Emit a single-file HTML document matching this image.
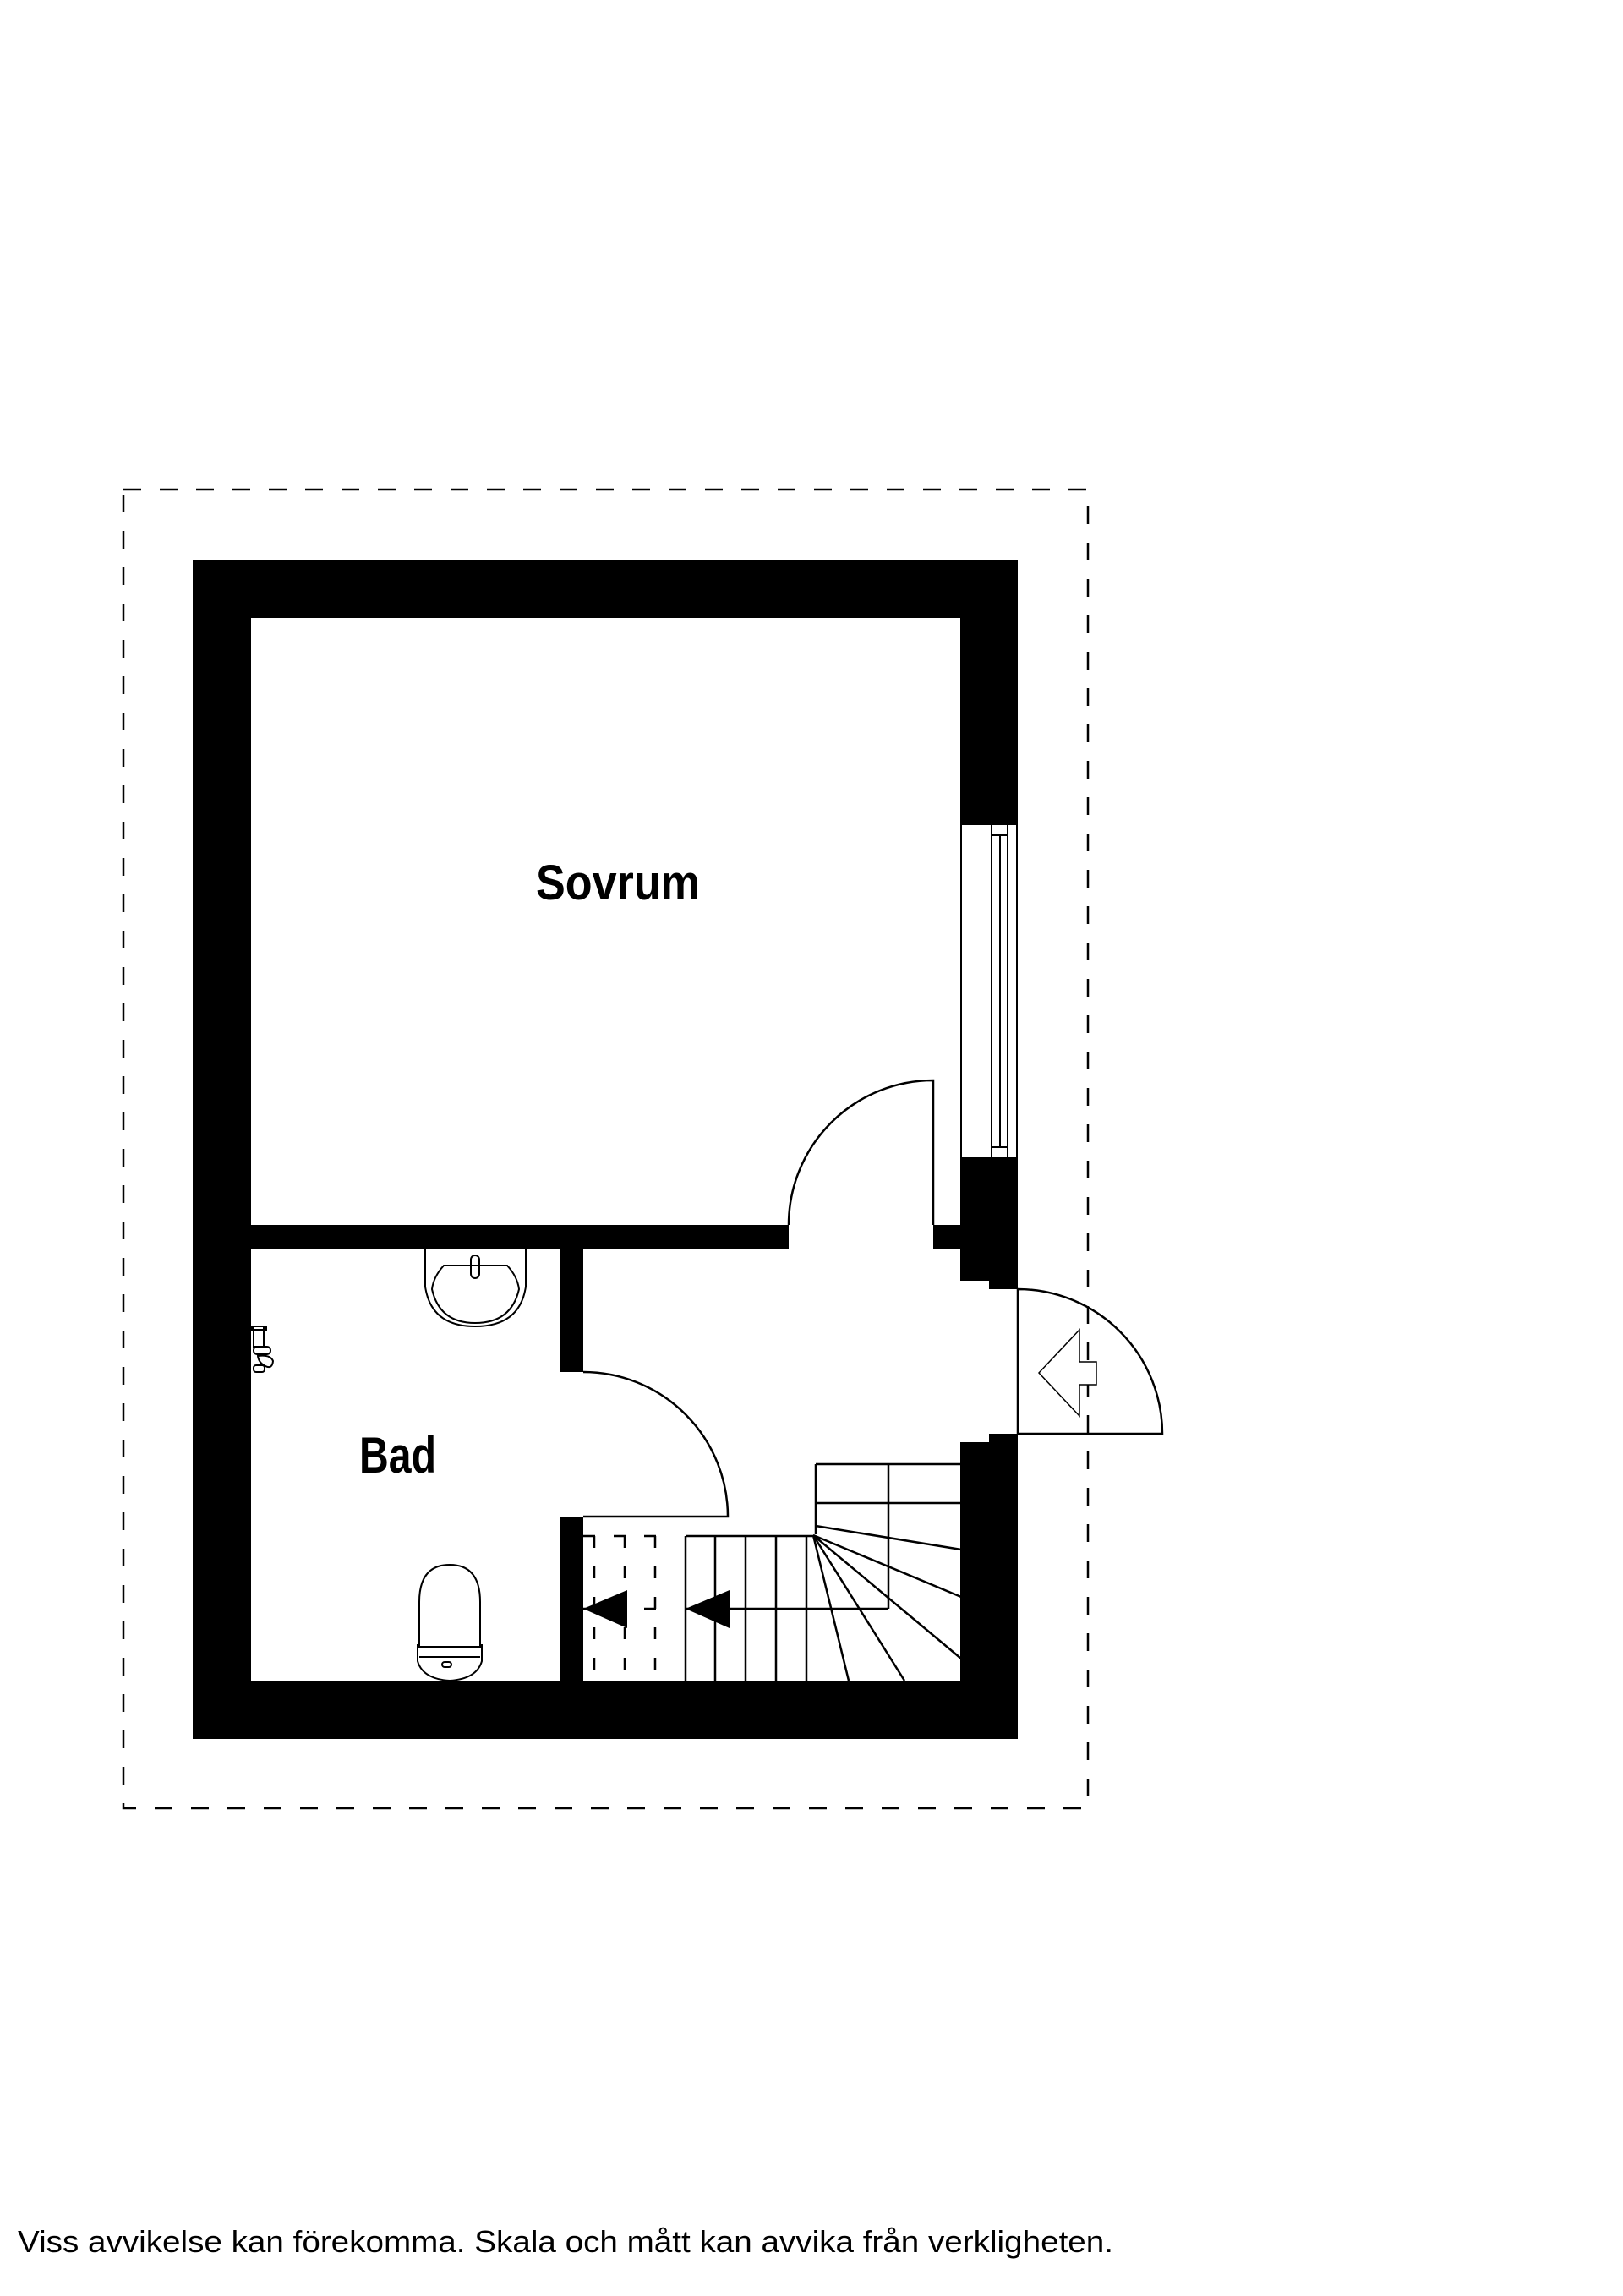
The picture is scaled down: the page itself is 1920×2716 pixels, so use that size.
<!DOCTYPE html>
<html><head><meta charset="utf-8"><style>
html,body{margin:0;padding:0;background:#fff;}
svg{display:block;}
</style></head><body>
<svg width="1920" height="2716" viewBox="0 0 1920 2716" xmlns="http://www.w3.org/2000/svg">
<rect width="1920" height="2716" fill="#fff"/>
<!-- dashed outline -->
<rect x="146" y="579" width="1141" height="1560" fill="none" stroke="#000" stroke-width="2.5" stroke-dasharray="21 22"/>
<!-- outer walls -->
<g fill="#000">
<rect x="228" y="662" width="976" height="69"/>
<rect x="228" y="662" width="69" height="1395"/>
<rect x="228" y="1988" width="976" height="69"/>
<!-- right wall upper -->
<rect x="1136" y="662" width="68" height="314"/>
<!-- right wall below window with steps -->
<rect x="1136" y="1369" width="68" height="146"/>
<rect x="1170" y="1369" width="34" height="156"/>
<!-- right wall lower -->
<rect x="1170" y="1696" width="34" height="300"/>
<rect x="1136" y="1706" width="68" height="300"/>
<!-- interior horizontal wall -->
<rect x="297" y="1449" width="636" height="28"/>
<rect x="1104" y="1449" width="33" height="28"/>
<!-- bath wall -->
<rect x="663" y="1477" width="27" height="146"/>
<rect x="663" y="1794" width="27" height="200"/>
</g>
<!-- window -->
<g fill="none" stroke="#000" stroke-width="2">
<line x1="1137" y1="976" x2="1137" y2="1369"/>
<line x1="1203" y1="976" x2="1203" y2="1369"/>
<line x1="1173" y1="976" x2="1173" y2="1369"/>
<line x1="1183" y1="988" x2="1183" y2="1357"/>
<line x1="1192" y1="976" x2="1192" y2="1369"/>
<line x1="1173" y1="988" x2="1192" y2="988"/>
<line x1="1173" y1="1357" x2="1192" y2="1357"/>
</g>
<!-- doors -->
<g fill="none" stroke="#000" stroke-width="2.5">
<path d="M933 1449 A171 171 0 0 1 1104 1278 L1104 1449"/>
<path d="M1204 1525 A171 171 0 0 1 1375 1696 L1204 1696 Z"/>
<path d="M690 1623 A171 171 0 0 1 861 1794 L690 1794"/>
</g>
<!-- entrance arrow -->
<path d="M1229 1624 L1277 1573 L1277 1611 L1297 1611 L1297 1638 L1277 1638 L1277 1675 Z" fill="#fff" stroke="#000" stroke-width="1.5"/>
<!-- stairs -->
<g fill="none" stroke="#000" stroke-width="2.5">
<line x1="965" y1="1732" x2="1137" y2="1732"/>
<line x1="965" y1="1778" x2="1137" y2="1778"/>
<line x1="965" y1="1732" x2="965" y2="1815"/>
<line x1="1051" y1="1732" x2="1051" y2="1903"/>
<line x1="811" y1="1817" x2="962" y2="1817"/>
<line x1="811" y1="1903" x2="1051" y2="1903"/>
<line x1="811" y1="1817" x2="811" y2="1988"/>
<line x1="846" y1="1817" x2="846" y2="1988"/>
<line x1="882" y1="1817" x2="882" y2="1988"/>
<line x1="918" y1="1817" x2="918" y2="1988"/>
<line x1="954" y1="1817" x2="954" y2="1988"/>
<line x1="965" y1="1805" x2="1137" y2="1833"/>
<line x1="962" y1="1816" x2="1137" y2="1889"/>
<line x1="962" y1="1816" x2="1137" y2="1962"/>
<line x1="962" y1="1816" x2="1070" y2="1988"/>
<line x1="962" y1="1816" x2="1004" y2="1988"/>
</g>
<g fill="none" stroke="#000" stroke-width="2.5" stroke-dasharray="14 22">
<line x1="690" y1="1817" x2="797" y2="1817"/>
<line x1="690" y1="1903" x2="797" y2="1903"/>
<line x1="703" y1="1817" x2="703" y2="1988"/>
<line x1="739" y1="1817" x2="739" y2="1988"/>
<line x1="775" y1="1817" x2="775" y2="1988"/>
</g>
<path d="M690 1903 L742 1881 L742 1926 Z" fill="#000"/>
<path d="M811 1903 L863 1881 L863 1926 Z" fill="#000"/>
<!-- sink -->
<g fill="none" stroke="#000" stroke-width="2">
<path d="M503 1477 L503 1522 Q510 1569 562 1569 Q615 1569 622 1522 L622 1477"/>
<path d="M525 1497 L600 1497 Q612 1510 614 1525 Q605 1565 562 1565 Q520 1565 511 1525 Q513 1510 525 1497 Z"/>
<rect x="557" y="1485" width="10" height="27" rx="5"/>
</g>
<!-- shower mixer -->
<g fill="none" stroke="#000" stroke-width="2">
<rect x="300" y="1569" width="12" height="24"/>
<rect x="298" y="1569" width="17" height="4"/>
<rect x="300" y="1593" width="20" height="9" rx="4"/>
<path d="M305 1604 Q320 1602 323 1610 Q322 1620 314 1616 Q306 1612 305 1604 Z"/>
<rect x="300" y="1615" width="13" height="8" rx="3"/>
</g>
<!-- toilet -->
<g fill="none" stroke="#000" stroke-width="2">
<path d="M496 1948 L496 1895 Q496 1851 532 1851 Q568 1851 568 1895 L568 1948 Z"/>
<path d="M494 1945 L494 1965 Q500 1986 532 1988 Q564 1986 570 1965 L570 1945"/>
<line x1="496" y1="1960" x2="568" y2="1960"/>
<rect x="523" y="1966" width="11" height="6" rx="3"/>
</g>
<!-- labels -->
<g font-family="'Liberation Sans', 'DejaVu Sans', sans-serif" font-weight="bold" fill="#000">
<text x="634" y="1064" font-size="58" textLength="194" lengthAdjust="spacingAndGlyphs">Sovrum</text>
<text x="425" y="1742" font-size="60" textLength="91" lengthAdjust="spacingAndGlyphs">Bad</text>
</g>
<text x="21" y="2664" font-family="'Liberation Sans', sans-serif" font-size="36" fill="#000" textLength="1296" lengthAdjust="spacingAndGlyphs">Viss avvikelse kan förekomma. Skala och mått kan avvika från verkligheten.</text>
</svg>
</body></html>
